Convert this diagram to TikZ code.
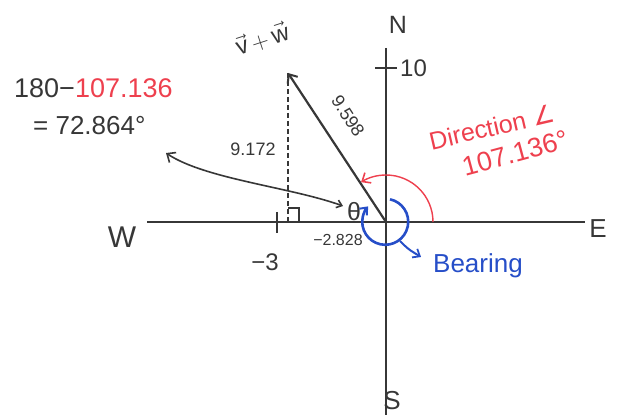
\RequirePackage{fix-cm}
\documentclass[tikz,border=0pt]{standalone}
\usepackage{fontspec}
\setmainfont{Liberation Sans}
\newfontfamily\symfont{DejaVu Sans}
\usetikzlibrary{arrows.meta}
\definecolor{ink}{RGB}{55,55,55}
\definecolor{penred}{RGB}{238,64,78}
\definecolor{penblue}{RGB}{38,78,200}
\tikzset{
  axis/.style={ink, line width=2.2pt},
  barb/.style={-{Straight Barb[length=7pt,width=12pt,line width=2pt]}},
  lbl/.style={ink, inner sep=0pt},
}
\newcommand{\fs}[1]{\fontsize{#1}{#1}\selectfont}
\begin{document}
\begin{tikzpicture}[x=1pt,y=1pt]
\useasboundingbox (0,0) rectangle (624,415);
% axes
\coordinate (O) at (386,193);
\coordinate (xl) at (147,193);
\coordinate (xr) at (585,193);
\coordinate (yt) at (386,367);
\coordinate (yb) at (386,0);
\draw[axis] (xl) -- (xr);
\draw[axis] (yt) -- (yb);
\node[lbl, font=\fs{30}] (W) at (122,178) {W};
\node[lbl, font=\fs{26}] (E) at (598,186) {E};
\node[lbl, font=\fs{25}] (N) at (398,390) {N};
\node[lbl, font=\fs{26}] (S) at (392,14) {S};
% ticks
\coordinate (t10a) at (375,347); \coordinate (t10b) at (397,347);
\draw[axis] (t10a) -- (t10b);
\node[lbl, font=\fs{24}, anchor=west] (ten) at (400,347) {10};
\coordinate (t3a) at (277,203); \coordinate (t3b) at (277,182);
\draw[axis] (t3a) -- (t3b);
\node[lbl, font=\fs{24}] (m3) at (265,153) {−3};
% vector
\coordinate (T) at (288,342);
\coordinate (F) at (288,193);
\draw[axis, barb] (O) -- (T);
\draw[ink, line width=1.3pt, dash pattern=on 5pt off 3pt] (T) -- (F);
\coordinate (ra1) at (288,207); \coordinate (ra2) at (299,207); \coordinate (ra3) at (299,193);
\draw[ink, line width=1.6pt] (ra1) -- (ra2) -- (ra3);
\node[lbl, font=\fs{24}, rotate=18] (vw) at (262,376) {$\vec{\mathrm{v}}\,\mathrm{+}\,\vec{\mathrm{w}}$};
\node[lbl, font=\fs{18}] (h) at (253,266) {9.172};
\node[lbl, font=\fs{18}, rotate=-57] (len) at (348,299) {9.598};
\node[lbl, font=\fs{16}] (dx) at (338,175) {−2.828};
\node[lbl, font=\fs{25}] (th) at (354,203) {θ};
% curve to the 180 - ... note
\coordinate (cs) at (343,209);
\coordinate (ce) at (166,262);
\draw[ink, line width=1.6pt, {Straight Barb[length=5pt,width=8pt,line width=1.6pt]}-{Straight Barb[length=7pt,width=12pt,line width=1.6pt]}]
  (cs) .. controls (290,228) and (205,236) .. (ce);
\node[lbl, font=\fs{27}, anchor=west] (calc1) at (14,327) {180−\textcolor{penred}{107.136}};
\node[lbl, font=\fs{26}, anchor=west] (calc2) at (33,289) {= 72.864°};
% direction arc
\coordinate (da) at (433,193);
\draw[penred, line width=1.4pt, -{Straight Barb[length=7pt,width=12pt,line width=1.6pt]}] (da) arc[start angle=0, end angle=122, radius=47];
\node[lbl, penred, font=\fs{25}, rotate=13] (dir) at (492,288) {Direction {\symfont ∠}};
\node[lbl, penred, font=\fs{27}, rotate=15] (dval) at (515,262) {107.136°};
% bearing circle
\coordinate (bc) at (390.0,215.7);
\draw[penblue, line width=2.6pt, -{Straight Barb[length=6pt,width=10pt,line width=2pt]}] (bc) arc[start angle=78, end angle=-222, radius=23];
\coordinate (ba) at (400,174);
\coordinate (bb) at (421,158);
\draw[penblue, line width=2pt, -{Straight Barb[length=6pt,width=10pt,line width=1.8pt]}] (ba) .. controls (408,166) .. (bb);
\node[lbl, penblue, font=\fs{26}] (bear) at (478,149) {Bearing};
\end{tikzpicture}
\end{document}
